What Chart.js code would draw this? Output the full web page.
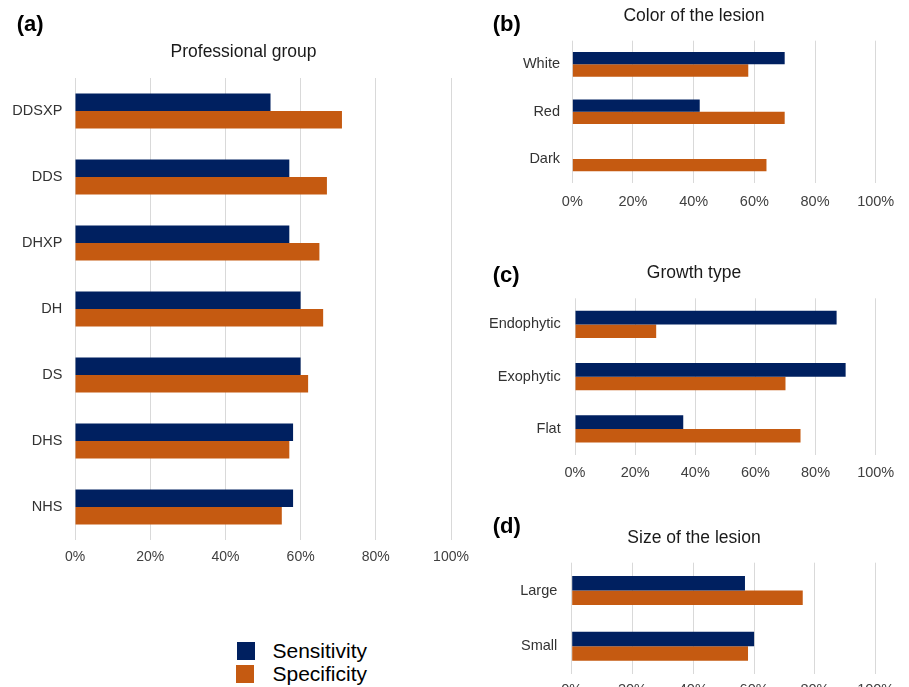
<!DOCTYPE html>
<html>
<head>
<meta charset="utf-8">
<script src="https://cdn.jsdelivr.net/npm/chart.js@4/dist/chart.umd.min.js"></script>
<style>
  html, body { margin: 0; padding: 0; background: #ffffff; }
  body { width: 909px; height: 687px; overflow: hidden; position: relative; font-family: "Liberation Sans", Arial, sans-serif; }
  .box { position: absolute; }
  .plabel { position: absolute; font-weight: bold; font-size: 22px; line-height: 24px; color: #000; }
  .leg-sq { position: absolute; width: 18px; height: 18px; }
  .leg-tx { position: absolute; font-size: 21px; line-height: 24px; color: #000; }
</style>
</head>
<body>
<script>
// ---- data ----
const seriesNames = ["Sensitivity", "Specificity"];
const seriesColors = ["#002060", "#C55A11"];
const xTicks = [0, 20, 40, 60, 80, 100];

const groupCats = ["DDSXP", "DDS", "DHXP", "DH", "DS", "DHS", "NHS"];
const groupSens = [52, 57, 57, 60, 60, 58, 58];
const groupSpec = [71, 67, 65, 66, 62, 57, 55];

const colorCats = ["White", "Red", "Dark"];
const colorSens = [70, 42, null];
const colorSpec = [58, 70, 64];

const growthCats = ["Endophytic", "Exophytic", "Flat"];
const growthSens = [87, 90, 36];
const growthSpec = [27, 70, 75];

const sizeCats = ["Large", "Small"];
const sizeSens = [57, 60];
const sizeSpec = [76, 58];

const panelTitles = ["Professional group", "Color of the lesion", "Growth type", "Size of the lesion"];
const panelLabels = ["(a)", "(b)", "(c)", "(d)"];

// ---- helpers ----
const FONT = '"Liberation Sans", Arial, sans-serif';

function makePanel(cfg) {
  const div = document.createElement('div');
  div.className = 'box';
  div.style.left = cfg.left + 'px';
  div.style.top = cfg.top + 'px';
  div.style.width = cfg.W + 'px';
  div.style.height = cfg.H + 'px';
  const cv = document.createElement('canvas');
  cv.width = cfg.W; cv.height = cfg.H;
  cv.style.width = cfg.W + 'px'; cv.style.height = cfg.H + 'px';
  div.appendChild(cv);
  document.body.appendChild(div);

  const titleLH = cfg.titleSize * 1.2;
  const padTop = cfg.titleY - titleLH / 2;
  const padBottom = cfg.plotTop - padTop - titleLH;

  new Chart(cv.getContext('2d'), {
    type: 'bar',
    data: {
      labels: cfg.cats,
      datasets: [
        { label: seriesNames[0], data: cfg.sens, backgroundColor: seriesColors[0], borderWidth: 0,
          categoryPercentage: cfg.catPct, barPercentage: 1.0 },
        { label: seriesNames[1], data: cfg.spec, backgroundColor: seriesColors[1], borderWidth: 0,
          categoryPercentage: cfg.catPct, barPercentage: 1.0 }
      ]
    },
    options: {
      indexAxis: 'y',
      responsive: false,
      animation: false,
      devicePixelRatio: 1,
      layout: { padding: 0 },
      plugins: {
        legend: { display: false },
        tooltip: { enabled: false },
        title: {
          display: true,
          text: cfg.title,
          color: '#1a1a1a',
          font: { family: FONT, size: cfg.titleSize, weight: 'normal', lineHeight: 1.2 },
          padding: { top: padTop, bottom: padBottom }
        }
      },
      scales: {
        x: {
          type: 'linear',
          min: 0, max: 100,
          afterBuildTicks: (s) => { s.ticks = xTicks.map(v => ({ value: v })); },
          ticks: {
            callback: (v) => v + '%',
            color: '#404040',
            padding: cfg.xTickPad,
            maxRotation: 0,
            autoSkip: false,
            font: { family: FONT, size: cfg.xTickSize, lineHeight: 1.2 }
          },
          grid: { color: '#d9d9d9', lineWidth: 1, drawTicks: false },
          border: { display: false },
          afterFit: (s) => { s.height = cfg.H - cfg.plotBottom; s.paddingLeft = 0; s.paddingRight = cfg.W - cfg.plotRight; }
        },
        y: {
          ticks: {
            color: '#333333',
            padding: cfg.yTickPad,
            font: { family: FONT, size: 14.5, lineHeight: 1.2 }
          },
          grid: { display: false, drawTicks: false },
          border: { display: false },
          afterFit: (s) => { s.width = cfg.plotLeft; s.paddingTop = 0; s.paddingBottom = 0; }
        }
      }
    }
  });
}

// panel (a)
makePanel({ left: 0, top: 0, W: 487, H: 600, plotLeft: 75, plotRight: 451, plotTop: 78, plotBottom: 540,
  titleY: 52.5, titleSize: 17.5, title: panelTitles[0], cats: groupCats, sens: groupSens, spec: groupSpec,
  catPct: 0.53, xTickPad: 8.3, xTickSize: 14, yTickPad: 12.7 });
// panel (b)
makePanel({ left: 480, top: 0, W: 428, H: 230, plotLeft: 92.3, plotRight: 395.7, plotTop: 40.7, plotBottom: 182.7,
  titleY: 15.8, titleSize: 17.5, title: panelTitles[1], cats: colorCats, sens: colorSens, spec: colorSpec,
  catPct: 0.52, xTickPad: 11, xTickSize: 14.5, yTickPad: 12.3 });
// panel (c)
makePanel({ left: 480, top: 230, W: 428, H: 260, plotLeft: 95, plotRight: 395.7, plotTop: 68.3, plotBottom: 225,
  titleY: 43.3, titleSize: 17.5, title: panelTitles[2], cats: growthCats, sens: growthSens, spec: growthSpec,
  catPct: 0.52, xTickPad: 9.6, xTickSize: 14.5, yTickPad: 14.3 });
// panel (d)
makePanel({ left: 480, top: 500, W: 428, H: 230, plotLeft: 91.7, plotRight: 395.7, plotTop: 62.7, plotBottom: 174,
  titleY: 38.3, titleSize: 17.5, title: panelTitles[3], cats: sizeCats, sens: sizeSens, spec: sizeSpec,
  catPct: 0.52, xTickPad: 7.5, xTickSize: 14.5, yTickPad: 14.4 });

// panel labels
const labelPos = [[16.7, 11.5], [492.7, 11.5], [492.7, 263], [492.7, 514.3]];
panelLabels.forEach((t, i) => {
  const d = document.createElement('div');
  d.className = 'plabel';
  d.textContent = t;
  d.style.left = labelPos[i][0] + 'px';
  d.style.top = labelPos[i][1] + 'px';
  document.body.appendChild(d);
});

// legend
const legPos = [[237, 642, 650.8], [236, 665, 674]];
seriesNames.forEach((n, i) => {
  const sq = document.createElement('div');
  sq.className = 'leg-sq';
  sq.style.background = seriesColors[i];
  sq.style.left = legPos[i][0] + 'px';
  sq.style.top = legPos[i][1] + 'px';
  document.body.appendChild(sq);
  const tx = document.createElement('div');
  tx.className = 'leg-tx';
  tx.textContent = n;
  tx.style.left = '272.5px';
  tx.style.top = (legPos[i][2] - 12) + 'px';
  document.body.appendChild(tx);
});
</script>
</body>
</html>
